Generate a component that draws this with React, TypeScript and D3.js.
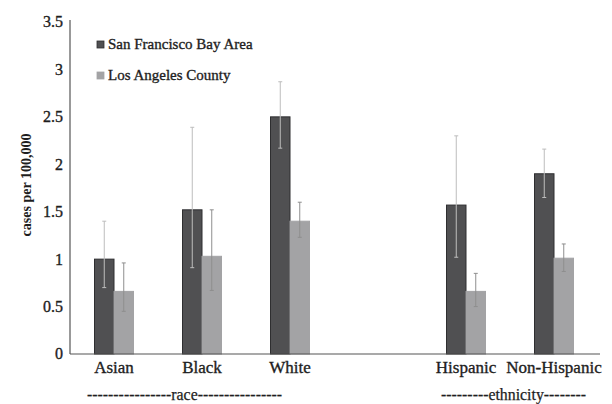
import React from "react";
import * as d3 from "d3";

const categories = ["Asian", "Black", "White", "", "Hispanic", "Non-Hispanic"];
const seriesNames = ["San Francisco Bay Area", "Los Angeles County"];
const sfValues = [1.0, 1.52, 2.5, null, 1.57, 1.9];
const sfLower = [0.7, 0.91, 2.17, null, 1.02, 1.65];
const sfUpper = [1.4, 2.39, 2.87, null, 2.3, 2.16];
const laValues = [0.66, 1.03, 1.4, null, 0.66, 1.01];
const laLower = [0.45, 0.67, 1.23, null, 0.5, 0.87];
const laUpper = [0.96, 1.52, 1.6, null, 0.85, 1.16];
const yTicks = [0, 0.5, 1, 1.5, 2, 2.5, 3, 3.5];
const groupLabels = [
  { text: "----------------race----------------", from: "Asian", to: "White" },
  { text: "---------ethnicity--------", from: "Hispanic", to: "Non-Hispanic" },
];

const FILLS = ["#505052", "#a3a3a5"];
const STROKES = ["#2e2e30", "#a3a3a5"];
const WHISKERS = ["#bdbdbd", "#8e8e8e"];

export default function App() {
  const left = 70, right = 598, top = 22, bottom = 354;
  const keys = categories.map((c, i) => (c === "" ? "__gap" + i : c));
  const x = d3.scaleBand<string>().domain(keys).range([left, right]).padding(0);
  const inner = d3.scaleBand<string>().domain(seriesNames).range([-19.5, 19.5]).padding(0);
  const y = d3.scaleLinear().domain([0, 3.5]).range([bottom, top]);

  const series = [
    { name: seriesNames[0], values: sfValues, lo: sfLower, hi: sfUpper },
    { name: seriesNames[1], values: laValues, lo: laLower, hi: laUpper },
  ];
  const font = "'Liberation Serif', 'Times New Roman', serif";
  const ink = "#1e1e1e";
  const textStroke = { stroke: ink, strokeWidth: 0.35 };

  return (
    <svg width={612} height={404} style={{ position: "fixed", left: 0, top: 0, background: "#fff" }} fontFamily={font}>
      <rect x={0} y={0} width={612} height={404} fill="#fff" />
      {series.map((s, si) =>
        s.values.map((v, i) => {
          if (v == null) return null;
          const cx = (x(keys[i]) as number) + x.bandwidth() / 2;
          const bx = cx + (inner(s.name) as number);
          const bw = inner.bandwidth();
          return (
            <rect key={si + "-" + i} x={bx} y={y(v)} width={bw} height={y(0) - y(v)}
              fill={FILLS[si]} stroke={STROKES[si]} strokeWidth={1} />
          );
        })
      )}
      {series.map((s, si) =>
        s.values.map((v, i) => {
          if (v == null) return null;
          const cx = (x(keys[i]) as number) + x.bandwidth() / 2;
          const mx = cx + (inner(s.name) as number) + inner.bandwidth() / 2;
          const lo = s.lo[i] as number, hi = s.hi[i] as number;
          return (
            <g key={"e" + si + "-" + i} stroke={WHISKERS[si]} strokeWidth={1}>
              <line x1={mx} x2={mx} y1={y(hi)} y2={y(lo)} />
              <line x1={mx - 2} x2={mx + 2} y1={y(hi)} y2={y(hi)} />
              <line x1={mx - 2} x2={mx + 2} y1={y(lo)} y2={y(lo)} />
            </g>
          );
        })
      )}
      <line x1={left} x2={left} y1={top - 2} y2={bottom} stroke="#555" strokeWidth={1.2} />
      <line x1={left} x2={right + 2} y1={bottom} y2={bottom} stroke="#555" strokeWidth={1.2} />
      {yTicks.map((t) => (
        <text key={t} x={63} y={y(t)} dy="0.34em" textAnchor="end" fontSize={16} fill={ink} {...textStroke}>
          {String(t)}
        </text>
      ))}
      <text transform={`translate(31,185) rotate(-90)`} textAnchor="middle" fontSize={14} fontWeight="bold" fill={ink}>
        cases per 100,000
      </text>
      {categories.map((c, i) =>
        c === "" ? null : (
          <text key={c} x={(x(keys[i]) as number) + x.bandwidth() / 2} y={373} textAnchor="middle" fontSize={17} fill={ink} {...textStroke}>
            {c}
          </text>
        )
      )}
      {groupLabels.map((g) => {
        const isEth = g.from === "Hispanic";
        const x0 = (x(g.from) as number) + x.bandwidth() / 2 + (isEth ? -25 : -27);
        const x1 = (x(g.to) as number) + x.bandwidth() / 2 + (isEth ? 32 : -8);
        return (
          <text key={g.text} x={x0} y={400} fontSize={16} fill={ink} stroke={ink} strokeWidth={0.25}
            textLength={x1 - x0} lengthAdjust="spacingAndGlyphs">
            {g.text}
          </text>
        );
      })}
      {seriesNames.map((n, i) => (
        <g key={n}>
          <rect x={97} y={41 + i * 31} width={7} height={7} fill={FILLS[i]} stroke={STROKES[i]} strokeWidth={0.8} />
          <text x={108} y={49 + i * 31} fontSize={15} fill={ink} {...textStroke}>{n}</text>
        </g>
      ))}
    </svg>
  );
}
